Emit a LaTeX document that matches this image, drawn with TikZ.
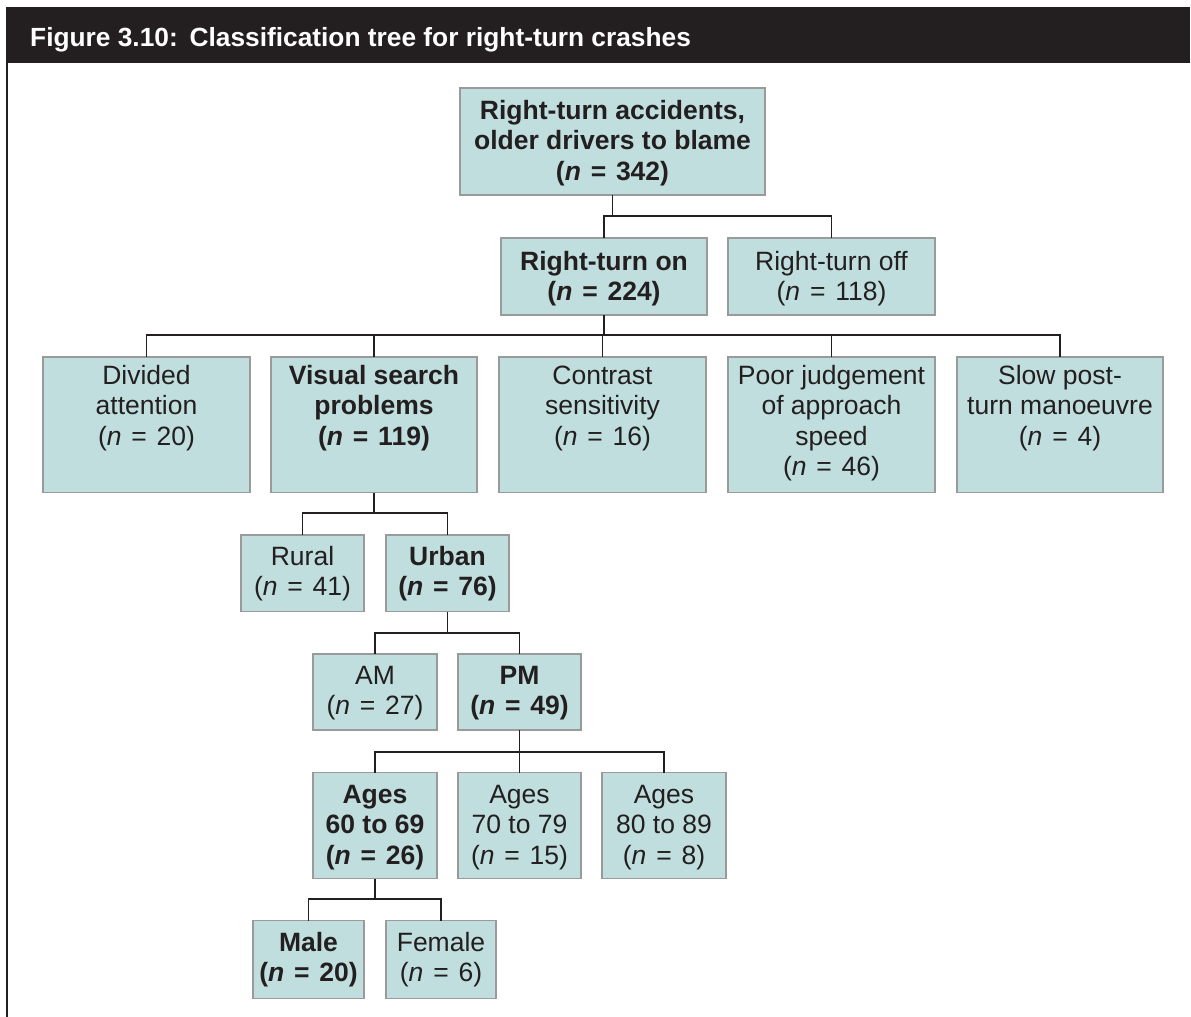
\documentclass[tikz,border=0pt]{standalone}
\usepackage{fontspec}
\setmainfont{Liberation Sans}
\definecolor{barc}{HTML}{231F20}
\definecolor{textc}{HTML}{231F20}
\definecolor{boxfill}{HTML}{BFDEDD}
\definecolor{boxline}{HTML}{9A9A9A}
\newcommand\nn[1]{(\textit{n}\hspace{.37em}=\hspace{.37em}#1)}
% name, left, top, right, bottom, first baseline, style, text
\newcommand\mkbox[8]{%
  \node[boxst, anchor=north west, minimum width={#4-#2}, minimum height={#5-#3}] (#1) at (#2,#3) {};
  \node[#7, anchor=north] (#1-t) at ({(#2+#4)/2},{#6-21.35}) {\strut #8};
}
\tikzset{
  boxst/.style={draw=boxline, fill=boxfill, line width=1.8pt, inner sep=0pt, outer sep=0pt, rectangle},
  txtst/.style={align=center, inner sep=0pt, text=textc, font=\fontsize{26.5}{30.5}\selectfont},
  txtbold/.style={txtst, font=\fontsize{26.5}{30.5}\selectfont\bfseries},
  conn/.style={draw=barc, line width=1.8pt}
}
\begin{document}
\begin{tikzpicture}[x=1pt, y=-1pt]
\useasboundingbox (0,0) rectangle (1191,1017);
% header
\fill[barc] (6,6.7) rectangle (1190,62.7);
\node[anchor=base west, text=white, inner sep=0pt, font=\fontsize{26.3}{30}\selectfont\bfseries] (title) at (30,46.7) {Figure 3.10:\hspace{0.45em}Classification tree for right-turn crashes};
\draw[barc, line width=2.4pt] (7.2,62) -- (7.2,1017);
% boxes
\mkbox{root}{460}{88}{765}{195}{119}{txtbold}{Right-turn accidents,\\older drivers to blame\\\nn{342}}
\mkbox{rton}{501}{238}{707}{315}{270}{txtbold}{Right-turn on\\\nn{224}}
\mkbox{rtoff}{728}{238}{935}{315}{270}{txtst}{Right-turn off\\\nn{118}}
\mkbox{div}{43}{357}{250}{492.5}{384}{txtst}{Divided\\attention\\\nn{20}}
\mkbox{vis}{271}{357}{477}{492.5}{384}{txtbold}{Visual search\\problems\\\nn{119}}
\mkbox{con}{499}{357}{706}{492.5}{384}{txtst}{Contrast\\sensitivity\\\nn{16}}
\mkbox{poor}{728}{357}{935}{492.5}{384}{txtst}{Poor judgement\\of approach\\speed\\\nn{46}}
\mkbox{slow}{957}{357}{1163}{492.5}{384}{txtst}{Slow post-\\turn manoeuvre\\\nn{4}}
\mkbox{rural}{241}{535}{364}{611.5}{565}{txtst}{Rural\\\nn{41}}
\mkbox{urban}{386}{535}{509}{611.5}{565}{txtbold}{Urban\\\nn{76}}
\mkbox{am}{313}{654}{437}{730}{684}{txtst}{AM\\\nn{27}}
\mkbox{pm}{458}{654}{581}{730}{684}{txtbold}{PM\\\nn{49}}
\mkbox{asix}{313}{772.5}{437}{878.5}{803}{txtbold}{Ages\\60 to 69\\\nn{26}}
\mkbox{asev}{458}{772.5}{581}{878.5}{803}{txtst}{Ages\\70 to 79\\\nn{15}}
\mkbox{aeig}{602}{772.5}{726}{878.5}{803}{txtst}{Ages\\80 to 89\\\nn{8}}
\mkbox{male}{253}{920.5}{364}{998.5}{951}{txtbold}{Male\\\nn{20}}
\mkbox{female}{386}{920.5}{496}{998.5}{951}{txtst}{Female\\\nn{6}}
% bus levels
\coordinate (b1) at (0,215.7);
\coordinate (b2) at (0,335);
\coordinate (b3) at (0,513);
\coordinate (b4) at (0,633);
\coordinate (b5) at (0,751.7);
\coordinate (b6) at (0,899);
% connectors
\draw[conn] (root.south) -- (root.south |- b1);
\draw[conn] (rton.north) |- (rtoff.north |- b1) -- (rtoff.north);
\draw[conn] (rton.south) -- (rton.south |- b2);
\draw[conn] (div.north) |- (slow.north |- b2) -- (slow.north);
\draw[conn] (vis.north) -- (vis.north |- b2);
\draw[conn] (con.north) -- (con.north |- b2);
\draw[conn] (poor.north) -- (poor.north |- b2);
\draw[conn] (vis.south) -- (vis.south |- b3);
\draw[conn] (rural.north) |- (urban.north |- b3) -- (urban.north);
\draw[conn] (urban.south) -- (urban.south |- b4);
\draw[conn] (am.north) |- (pm.north |- b4) -- (pm.north);
\draw[conn] (pm.south) -- (pm.south |- b5);
\draw[conn] (asix.north) |- (aeig.north |- b5) -- (aeig.north);
\draw[conn] (asev.north) -- (asev.north |- b5);
\draw[conn] (asix.south) -- (asix.south |- b6);
\draw[conn] (male.north) |- (female.north |- b6) -- (female.north);
\end{tikzpicture}
\end{document}
